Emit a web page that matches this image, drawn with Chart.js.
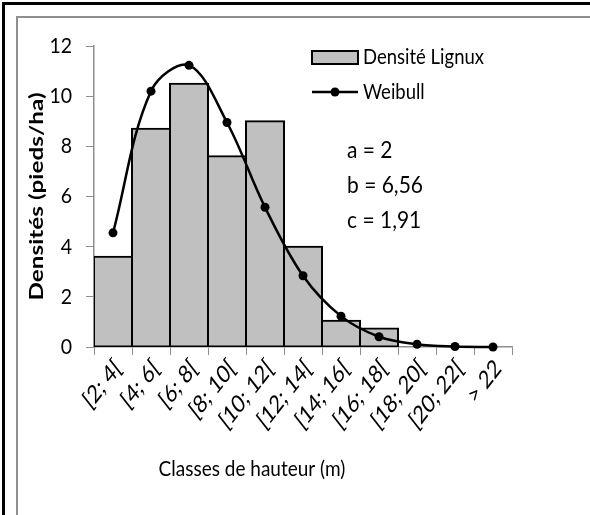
<!DOCTYPE html>
<html>
<head>
<meta charset="utf-8">
<script src="https://cdn.jsdelivr.net/npm/chart.js@4"></script>
<style>
  html, body { margin: 0; padding: 0; background: #fff; }
  #wrap { position: relative; width: 590px; height: 515px; overflow: hidden; }
  #outer { position: absolute; left: 2px; top: 2px; right: -10px; bottom: -10px; border-left: 3px solid #000; border-top: 3px solid #000; }
  #inner { position: absolute; left: 16px; top: 16px; right: -10px; bottom: -10px; border-left: 2px solid #8e8e8e; border-top: 2px solid #8e8e8e; }
  canvas { position: absolute; left: 0; top: 0; }
</style>
</head>
<body>
<div id="wrap">
  <div id="outer"></div>
  <div id="inner"></div>
  <canvas id="c" width="590" height="515"></canvas>
</div>
<script>
const categories = ['[2; 4[', '[4; 6[', '[6; 8[', '[8; 10[', '[10; 12[', '[12; 14[', '[14; 16[', '[16; 18[', '[18; 20[', '[20; 22[', '> 22'];
const densiteLignux = [3.6, 8.7, 10.5, 7.6, 9.0, 4.0, 1.05, 0.74, 0, 0, 0];
const weibull = [4.55, 10.2, 11.23, 8.95, 5.57, 2.84, 1.23, 0.41, 0.11, 0.02, 0.0];
const yTicks = [0, 2, 4, 6, 8, 10, 12];
const params = ['a = 2', 'b = 6,56', 'c = 1,91'];
const xTitle = 'Classes de hauteur (m)';
const yTitle = 'Densités (pieds/ha)';

const FONT = 'Lato, "Open Sans", sans-serif';
const S_ROT = 1.28;   // text stretch for rotated / vertical text
const S_HOR = 1.1;    // text stretch for horizontal text

function stretchedText(ctx, text, x, y, sy) {
  ctx.save();
  ctx.translate(x, y);
  ctx.scale(1, sy);
  ctx.fillText(text, 0, 0);
  ctx.restore();
}

const overlay = {
  id: 'overlay',
  afterDraw(chart) {
    const ctx = chart.ctx;
    const xs = chart.scales.x, ys = chart.scales.y;
    ctx.save();
    ctx.fillStyle = '#000';
    ctx.textBaseline = 'middle';

    // y tick labels
    ctx.font = '19.5px ' + FONT;
    ctx.textAlign = 'right';
    ys.ticks.forEach(t => stretchedText(ctx, String(t.value), 72, ys.getPixelForValue(t.value), S_HOR));

    // x tick labels (rotated, stretched)
    ctx.font = '19.5px ' + FONT;
    ctx.textAlign = 'right';
    xs.ticks.forEach((t, i) => {
      const x = xs.getPixelForTick(i) + 5;
      const y = xs.top + 17;
      ctx.save();
      ctx.translate(x, y);
      ctx.scale(1, S_ROT);
      ctx.rotate(-Math.PI / 4);
      ctx.fillText(categories[i], 0, 0);
      ctx.restore();
    });

    // y title
    ctx.font = 'bold 19px ' + FONT;
    ctx.textAlign = 'center';
    ctx.save();
    ctx.translate(37, (ys.top + ys.bottom) / 2);
    ctx.rotate(-Math.PI / 2);
    ctx.scale(S_ROT, 1);
    ctx.fillText(yTitle, 0, 0);
    ctx.restore();

    // legend
    const ds0 = chart.data.datasets[0], ds1 = chart.data.datasets[1];
    ctx.fillStyle = ds0.backgroundColor;
    ctx.fillRect(312, 51, 46, 13);
    ctx.strokeStyle = '#000'; ctx.lineWidth = 2;
    ctx.strokeRect(312, 51, 46, 13);
    ctx.beginPath(); ctx.lineWidth = 2.5;
    ctx.moveTo(312, 92); ctx.lineTo(358, 92); ctx.stroke();
    ctx.beginPath(); ctx.fillStyle = '#000';
    ctx.arc(335, 92, 4.5, 0, Math.PI * 2); ctx.fill();
    ctx.font = '18.5px ' + FONT;
    ctx.textAlign = 'left';
    stretchedText(ctx, ds0.label, 363, 57, S_HOR);
    stretchedText(ctx, ds1.label, 363, 92, S_HOR);

    // parameters
    ctx.font = '21px ' + FONT;
    params.forEach((t, i) => stretchedText(ctx, t, 347, 151 + i * 35, S_HOR));

    // x title
    ctx.font = '19px ' + FONT;
    ctx.textAlign = 'center';
    stretchedText(ctx, xTitle, 252, 469, S_HOR);
    ctx.restore();
  }
};

new Chart(document.getElementById('c'), {
  type: 'bar',
  data: {
    labels: categories,
    datasets: [
      {
        type: 'bar', label: 'Densité Lignux', data: densiteLignux,
        backgroundColor: '#c0c0c0', borderColor: '#000', borderWidth: 2,
        borderSkipped: false, inflateAmount: 1,
        categoryPercentage: 1, barPercentage: 1, order: 2
      },
      {
        type: 'line', label: 'Weibull', data: weibull,
        borderColor: '#000', backgroundColor: '#000', borderWidth: 2.5,
        pointRadius: 4.5, pointBackgroundColor: '#000', pointBorderWidth: 0,
        tension: 0.35, order: 1, clip: false
      }
    ]
  },
  options: {
    responsive: false,
    animation: false,
    devicePixelRatio: 1,
    layout: { padding: { left: 0, top: 46, right: 78, bottom: 0 } },
    plugins: { legend: { display: false }, tooltip: { enabled: false } },
    scales: {
      x: {
        offset: true,
        grid: { offset: true, drawOnChartArea: false, drawTicks: true, tickLength: 8, color: '#8e8e8e', lineWidth: 1 },
        border: { display: true, color: '#8e8e8e', width: 1.5 },
        ticks: { display: false, autoSkip: false },
        afterFit(scale) { scale.height = 515 - 347; }
      },
      y: {
        min: 0, max: 12,
        afterBuildTicks(scale) { scale.ticks = yTicks.map(v => ({ value: v })); },
        grid: { drawOnChartArea: false, drawTicks: true, tickLength: 8, color: '#8e8e8e' },
        border: { display: true, color: '#8e8e8e', width: 1.5 },
        ticks: { display: false },
        afterFit(scale) { scale.width = 94; }
      }
    }
  },
  plugins: [overlay]
});
</script>
</body>
</html>
